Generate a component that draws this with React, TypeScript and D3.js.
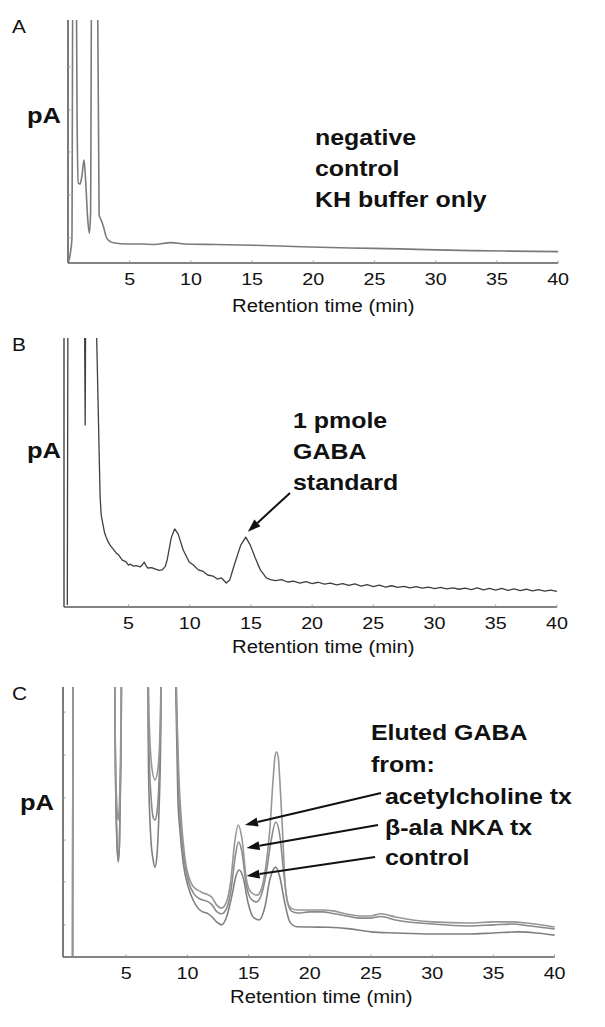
import React from "react";
import * as d3 from "d3";

type P = [number, number];

// x-axis ticks (Retention time, min)
const timeTicks = [5, 10, 15, 20, 25, 30, 35, 40];

// Panel A: negative control (KH buffer only)
const traceA: P[] = [
  [0, 0.4], [0.15, 4], [0.28, 10], [0.36, 130], [0.62, 130], [0.7, 60], [0.8, 32.9], [0.95, 32.5],
  [1.1, 36], [1.27, 42.4], [1.42, 32], [1.57, 18], [1.7, 12.3], [1.8, 20], [1.9, 130], [2.35, 130],
  [2.5, 19.8], [2.7, 17.3], [2.85, 15], [3.1, 10.5], [3.4, 8.8], [3.8, 8.2], [4.7, 7.8], [6, 7.8],
  [7, 7.6], [8.4, 8.4], [9.5, 7.8], [12, 7.6], [15, 7.3], [19, 6.7], [23, 6.2], [27, 5.8], [30, 5.4],
  [33, 5.1], [36, 4.9], [40, 4.7],
];

// Panel B: 1 pmole GABA standard
const traceB: P[] = [
  [0, 0.7], [0.06, 130], [1.38, 130], [1.46, 67.7], [1.52, 130], [2.36, 130], [2.4, 100], [2.47, 85.5],
  [2.58, 62], [2.68, 40.9], [2.77, 34.2], [2.92, 30.5], [3.05, 27.5], [3.17, 26], [3.3, 24.6], [3.49, 23],
  [3.7, 21.8], [3.99, 20.1], [4.2, 19.3], [4.48, 17.5], [4.8, 16.8], [5.0, 15.6], [5.17, 15.9],
  [5.4, 15.2], [5.6, 15.4], [5.97, 14.9], [6.15, 15.8], [6.28, 16.7], [6.45, 15.2], [6.58, 14.5],
  [6.9, 14.6], [7.2, 14.1], [7.5, 13.6], [7.75, 13.8], [8.0, 15], [8.16, 17.5], [8.49, 25.7],
  [8.77, 29], [9.06, 27.1], [9.47, 21.2], [9.96, 16.7], [10.3, 15.6], [10.7, 13.8], [11.1, 13.2],
  [11.47, 11.9], [11.9, 11.5], [12.25, 10.4], [12.6, 10.8], [12.99, 8.9], [13.27, 10], [13.64, 15.6],
  [14.17, 23], [14.58, 26], [14.95, 23], [15.36, 18.2], [15.77, 13.8], [16.26, 10.8], [16.6, 10.2],
  [17, 9.8], [17.5, 10.2], [18, 9.3], [18.5, 9.6], [19, 8.9], [19.5, 9.4], [20, 8.7], [20.5, 9.2],
  [21, 8.5], [21.5, 8.9], [22, 8.2], [22.5, 8.7], [23, 8.0], [23.5, 8.6], [24, 7.8], [24.5, 8.3],
  [25, 7.6], [25.5, 8.1], [26, 7.4], [26.5, 7.9], [27, 7.3], [27.5, 7.7], [28, 7.1], [28.5, 7.6],
  [29, 7.0], [29.5, 7.4], [30, 6.8], [30.5, 7.3], [31, 6.7], [31.5, 7.1], [32, 6.6], [32.5, 7.0],
  [33, 6.5], [33.5, 7.1], [34, 6.4], [34.5, 6.9], [35, 6.3], [35.5, 6.9], [36, 6.2], [36.5, 6.7],
  [37, 6.1], [37.5, 6.6], [38, 6.0], [38.5, 6.5], [39, 5.9], [39.5, 6.3], [40, 5.8],
];

// Panel C: eluted GABA
const traceAcetylcholine: P[] = [
  [0.62, 0.5], [0.66, 130], [3.98, 130], [4.12, 75], [4.28, 53], [4.35, 50.7], [4.43, 55], [4.58, 90],
  [4.66, 130], [6.72, 130], [6.86, 90], [7.1, 70], [7.35, 65.6], [7.6, 70], [7.8, 90], [7.92, 130],
  [8.99, 130], [9.1, 100], [9.32, 65], [9.52, 50], [9.82, 36], [10.25, 28], [10.65, 25.3], [11.02, 24.4],
  [11.27, 23.7], [11.57, 23.3], [11.98, 22.2], [12.38, 19.3], [12.79, 18.1], [13.2, 20.5], [13.55, 28.5],
  [13.85, 42], [14.15, 48.9], [14.45, 44], [14.83, 28.5], [15.2, 24], [15.7, 22.9], [16.1, 26],
  [16.45, 35], [16.73, 47], [17.0, 65.6], [17.15, 74], [17.28, 75.9], [17.42, 74], [17.55, 65.6],
  [17.77, 47], [17.96, 28.5], [18.2, 20], [18.5, 18], [19, 17.4], [20, 17.4], [21, 17.4], [22, 17],
  [23, 15.9], [24, 15.2], [25, 15.2], [25.8, 16], [27, 14.8], [30, 13], [33, 12.6], [35, 13], [36.5, 13],
  [38, 12.4], [40, 11.1],
];
const traceBetaAlaNKA: P[] = [
  [0.62, 0.5], [0.66, 130], [4.0, 130], [4.12, 70], [4.25, 42], [4.35, 36], [4.45, 42], [4.57, 75],
  [4.68, 130], [6.72, 130], [6.84, 80], [7.05, 58], [7.22, 51.5], [7.35, 50.7], [7.5, 53], [7.65, 62],
  [7.8, 85], [7.93, 130], [8.97, 130], [9.08, 100], [9.28, 62], [9.48, 47], [9.75, 35.5], [10.15, 27],
  [10.55, 23.3], [11.02, 21.5], [11.27, 21.1], [11.57, 20.7], [11.98, 19.5], [12.38, 16.9], [12.79, 16],
  [13.2, 18], [13.6, 26], [13.9, 37], [14.17, 42.6], [14.45, 39], [14.8, 27], [15.2, 21.5], [15.65, 20.4],
  [16.0, 22.5], [16.4, 30], [16.8, 42], [17.22, 50], [17.55, 45], [17.85, 32], [18.15, 21], [18.5, 17],
  [19, 16.3], [20, 16.7], [21, 16.7], [22, 16], [23, 15.2], [24, 14.4], [25, 14.4], [25.8, 15],
  [27, 13.7], [30, 12.2], [33, 11.5], [35, 11.9], [36.5, 12.2], [38, 11.5], [40, 10.4],
];
const traceControl: P[] = [
  [0.62, 0.5], [0.66, 130], [4.0, 130], [4.12, 70], [4.25, 42], [4.35, 35.2], [4.45, 42], [4.57, 75],
  [4.68, 130], [6.72, 130], [6.82, 70], [7.0, 45], [7.2, 36], [7.35, 33.3], [7.5, 37], [7.65, 50],
  [7.8, 75], [7.95, 130], [8.95, 130], [9.05, 100], [9.22, 59], [9.39, 47], [9.66, 34.8], [10.07, 25.9],
  [10.47, 21.1], [11.02, 17.4], [11.27, 16.7], [11.57, 16.3], [11.98, 15], [12.38, 13], [12.79, 11.9],
  [13.2, 14.8], [13.61, 22.2], [14.0, 30.5], [14.23, 32.2], [14.56, 29.3], [14.96, 20], [15.37, 14.8],
  [15.86, 13.7], [16.33, 18.5], [16.73, 28.5], [17.22, 33.3], [17.55, 29.6], [17.96, 20], [18.37, 13],
  [18.91, 11.2], [20, 11.1], [21.5, 11], [23.3, 10.4], [25, 9.3], [27, 8.9], [30, 8.5], [33, 8.5],
  [35, 8.9], [37, 9.3], [38.5, 8.9], [40, 8.1],
];

// annotation text
const labelA = ["negative", "control", "KH buffer only"];
const labelB = ["1 pmole", "GABA", "standard"];
const labelC = ["Eluted GABA", "from:"];
const seriesC = ["acetylcholine tx", "\u03b2-ala NKA tx", "control"];
// arrow tips in data coords [t, value]
const arrowTipB: P = [14.75, 28];
const arrowTipsC: P[] = [[14.7, 48.9], [14.83, 40.4], [14.83, 30]];

const SX = 1.16;
const FONT = "'Liberation Sans', Arial, Helvetica, sans-serif";
const K = 12.24;

function T({ x, y, size, bold, anchor, children }: any) {
  return (
    <text
      transform={`translate(${x},${y}) scale(${SX},1)`}
      fontSize={size}
      fontWeight={bold ? "bold" : "normal"}
      textAnchor={anchor || "start"}
      fontFamily={FONT}
      fill="#111"
    >
      {children}
    </text>
  );
}

function Arrow({ x1, y1, x2, y2 }: any) {
  const ang = Math.atan2(y2 - y1, x2 - x1);
  const L = 13, Wd = 4.5;
  const bx = x2 - L * Math.cos(ang), by = y2 - L * Math.sin(ang);
  const px = -Math.sin(ang) * Wd, py = Math.cos(ang) * Wd;
  return (
    <g>
      <line x1={x1} y1={y1} x2={bx} y2={by} stroke="#111" strokeWidth={2} />
      <polygon points={`${x2},${y2} ${bx + px},${by + py} ${bx - px},${by - py}`} fill="#111" />
    </g>
  );
}

function Panel({ id, letter, x0, axisY, topY, yAxisX, traces, yTicks, children }: any) {
  const xs = d3.scaleLinear().domain([0, 40]).range([x0, x0 + 40 * K]);
  const ys = d3.scaleLinear().domain([0, 100]).range([axisY, topY]);
  return (
    <g>
      <defs>
        <clipPath id={`clip-${id}`}>
          <rect x={yAxisX} y={topY} width={600 - yAxisX} height={axisY - topY} />
        </clipPath>
      </defs>
      {/* axes */}
      <line x1={yAxisX} y1={topY} x2={yAxisX} y2={axisY} stroke="#5a5a5a" strokeWidth={1.6} />
      <line x1={yAxisX} y1={axisY} x2={xs(40)} y2={axisY} stroke="#5a5a5a" strokeWidth={1.6} />
      {(yTicks || []).map((v: number, i: number) => (
        <line key={i} x1={yAxisX} x2={yAxisX + 2.5} y1={ys(v)} y2={ys(v)} stroke="#999" strokeWidth={1} />
      ))}
      {timeTicks.map((t) => (
        <g key={t}>
          <line x1={xs(t)} x2={xs(t)} y1={axisY} y2={axisY - 2.5} stroke="#999" strokeWidth={1} />
          <T x={xs(t)} y={axisY + 21.5} size={17} anchor="middle">{t}</T>
        </g>
      ))}
      <g clipPath={`url(#clip-${id})`}>
        {traces.map((tr: any, i: number) => {
          const line = d3
            .line<P>()
            .x((d) => xs(d[0]))
            .y((d) => ys(d[1]))
            .curve(tr.curve || d3.curveMonotoneX);
          return (
            <path key={i} d={line(tr.data) || ""} fill="none" stroke={tr.color} strokeWidth={tr.width}
              strokeLinejoin="round" />
          );
        })}
      </g>
      <T x={12} y={topY + 13} size={18}>{letter}</T>
      {children(xs, ys)}
    </g>
  );
}

export default function App() {
  return (
    <div style={{ position: "absolute", left: 0, top: 0 }}>
      <svg width={605} height={1027} style={{ display: "block", background: "#fff" }}>
        <Panel
          id="a" letter="A" x0={68.5} axisY={263} topY={20} yAxisX={68}
          yTicks={[10.3, 28, 45.7, 63, 80.7]}
          traces={[{ data: traceA, color: "#7a7a7a", width: 1.6 }]}
        >
          {(xs: any, ys: any) => (
            <g>
              <T x={27} y={123} size={22} bold>pA</T>
              {labelA.map((s, i) => (
                <T key={i} x={315} y={145 + i * 31} size={21.5} bold>{s}</T>
              ))}
              <T x={232} y={312} size={17.5}>Retention time (min)</T>
            </g>
          )}
        </Panel>
        <Panel
          id="b" letter="B" x0={67.3} axisY={607} topY={338} yAxisX={64}
          traces={[{ data: traceB, color: "#3f3f3f", width: 1.3, curve: d3.curveLinear }]}
        >
          {(xs: any, ys: any) => (
            <g>
              <T x={27} y={458} size={22} bold>pA</T>
              {labelB.map((s, i) => (
                <T key={i} x={293} y={428 + i * 31} size={21.5} bold>{s}</T>
              ))}
              <Arrow x1={290} y1={493} x2={xs(arrowTipB[0])} y2={ys(arrowTipB[1])} />
              <T x={232} y={653} size={17.5}>Retention time (min)</T>
            </g>
          )}
        </Panel>
        <Panel
          id="c" letter="C" x0={65} axisY={957} topY={687} yAxisX={63}
          yTicks={[11.9, 27.8, 43.3, 58.9, 74.8, 90.7]}
          traces={[
            { data: traceControl, color: "#808080", width: 1.6 },
            { data: traceBetaAlaNKA, color: "#8a8a8a", width: 1.6 },
            { data: traceAcetylcholine, color: "#969696", width: 1.6 },
          ]}
        >
          {(xs: any, ys: any) => (
            <g>
              <T x={20} y={810} size={22} bold>pA</T>
              {labelC.map((s, i) => (
                <T key={i} x={371} y={740 + i * 31.5} size={21.5} bold>{s}</T>
              ))}
              {seriesC.map((s, i) => (
                <T key={i} x={385} y={804 + i * 30.5} size={21.5} bold>{s}</T>
              ))}
              {arrowTipsC.map((p, i) => (
                <Arrow key={i} x1={381 - i * 3} y1={793 + i * 32} x2={xs(p[0])} y2={ys(p[1])} />
              ))}
              <T x={230} y={1003} size={17.5}>Retention time (min)</T>
            </g>
          )}
        </Panel>
      </svg>
    </div>
  );
}
